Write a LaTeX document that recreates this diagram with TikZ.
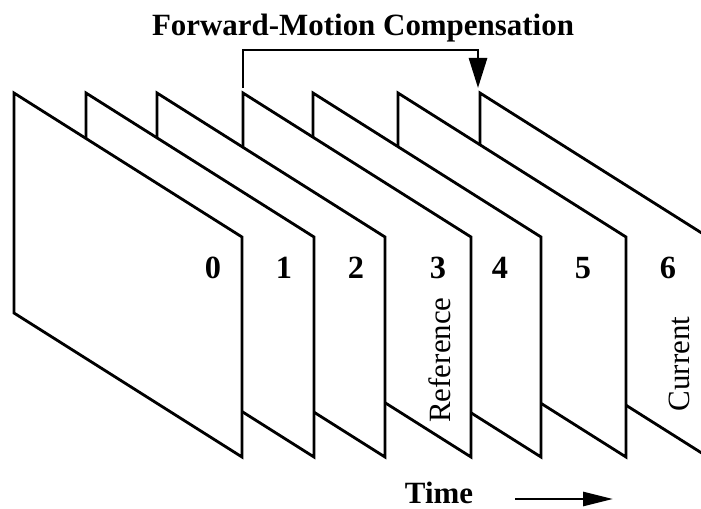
\documentclass[tikz,border=0pt]{standalone}
\usepackage{fontspec}
\setmainfont{Liberation Serif}
\usetikzlibrary{arrows.meta}
\tikzset{
  frame/.style={draw, fill=white, line width=2pt},
  num/.style={inner sep=0pt, anchor=base, font=\bfseries\fontsize{23}{23}\selectfont},
  tag/.style={inner sep=0pt, rotate=90, font=\fontsize{22}{22}\selectfont},
  caption/.style={inner sep=0pt, anchor=base, font=\bfseries\fontsize{22}{22}\selectfont},
  mcarrow/.style={line width=2pt, -{Triangle[length=0.75cm, width=0.45cm]}},
  timearrow/.style={line width=2pt, -{Triangle[length=0.75cm, width=0.35cm]}}
}
\begin{document}
\begin{tikzpicture}[x=0.025cm, y=-0.025cm]
\clip (0,0) rectangle (701,508);

% frames, back to front
\foreach \i/\x in {6/480,5/398,4/313,3/243,2/157,1/86,0/14}{
  \coordinate (f\i) at (\x,93);
  \draw[frame] (f\i) -- ++(228,144) -- ++(0,220) -- ++(-228,-144) -- cycle;
}

\foreach \i/\x in {0/213,1/284,2/356,3/438,4/500,5/583,6/668}
  \node[num] (n\i) at (\x,278) {\i};

\node[tag] (ref) at (440,360) {Reference};
\node[tag] (cur) at (679,364) {Current};

\node[caption] (title) at (363,35) {Forward-Motion Compensation};
\draw[mcarrow] ([shift={(0,-5)}]f3) -- ++(0,-38) -| ([shift={(-2,-5)}]f6);

\node[caption] (time) at (439,503) {Time};
\coordinate (tend) at (613,499);
\draw[timearrow] ([shift={(42,-4)}]time.base east) -- (tend);

\end{tikzpicture}
\end{document}
